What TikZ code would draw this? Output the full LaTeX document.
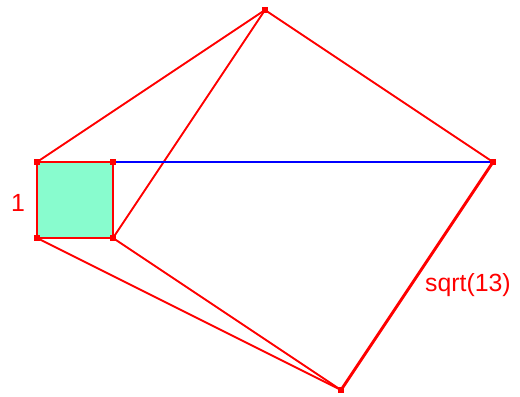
\documentclass[tikz,border=0pt]{standalone}
\usepackage{fontspec}
\setmainfont{Liberation Sans}
\definecolor{sqfill}{RGB}{136,252,206}
\tikzset{ptmark/.style={rectangle, fill=red, inner sep=0pt, minimum size=2.2pt},
  seg/.style={draw=red, line width=0.7pt},
  lbl/.style={text=red, font=\fontsize{9.3}{11}\selectfont}}
\begin{document}
\begin{tikzpicture}
\useasboundingbox (-0.487,-2.079) rectangle (6.355,3.132);
\coordinate (D) at (0,0);
\coordinate (C) at (1,0);
\coordinate (B) at (1,1);
\coordinate (A) at (0,1);
\coordinate (T) at (3,3);
\coordinate (R) at (6,1);
\coordinate (P) at (4,-2);
% unit square
\filldraw[fill=sqfill, draw=red, line width=1.1pt] (D) -- (C) -- (B) -- (A) -- cycle;
\draw[seg] (A) -- (T) -- (R);
\draw[seg] (T) -- (C);
\draw[seg] (D) -- (P);
\draw[seg] (C) -- (P);
\draw[blue, line width=0.75pt] (B) -- (R);
\draw[red, line width=1.1pt] (R) -- (P);
\foreach \p in {A,B,C,D,T,R,P} \node[ptmark] at (\p) {};
\node[lbl] (one) at (-0.25,0.46) {1};
\node[lbl] (root) at (5.67,-0.62) {sqrt(13)};
\end{tikzpicture}
\end{document}
